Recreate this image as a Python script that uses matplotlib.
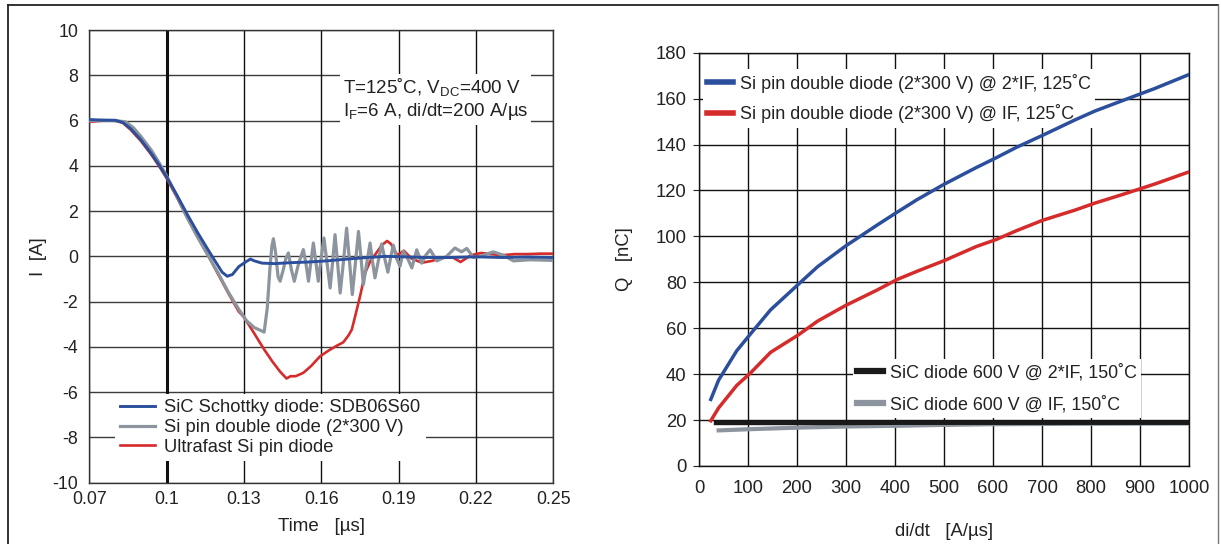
import matplotlib
matplotlib.use("Agg")
import matplotlib.pyplot as plt
from matplotlib import font_manager
from matplotlib.lines import Line2D

# ============================================================
# Data: reverse recovery current (left panel)
# ============================================================

T_SIC = [0.070, 0.075, 0.080, 0.083, 0.086, 0.090, 0.094, 0.097, 0.100, 0.104,
         0.108, 0.112, 0.116, 0.119, 0.1215, 0.1235, 0.1255, 0.128, 0.131, 0.1325,
         0.134, 0.137, 0.142, 0.148, 0.155, 0.162, 0.170, 0.178, 0.185, 0.192,
         0.200, 0.210, 0.220, 0.230, 0.240, 0.250]
I_SIC = [6.05, 6.02, 6.02, 5.92, 5.65, 5.15, 4.55, 4.05, 3.50, 2.70,
         1.85, 1.05, 0.30, -0.25, -0.70, -0.88, -0.80, -0.45, -0.22, -0.12,
         -0.20, -0.30, -0.32, -0.28, -0.25, -0.20, -0.12, -0.05, 0.00, -0.02,
         -0.05, -0.05, -0.02, -0.05, -0.03, -0.05]

T_PIN = [0.070, 0.075, 0.080, 0.084, 0.087, 0.090, 0.094, 0.097, 0.100, 0.104,
         0.108, 0.112, 0.116, 0.120, 0.124, 0.128, 0.131, 0.134, 0.1365, 0.1378,
         0.1390, 0.1400, 0.1408, 0.1414, 0.1422, 0.1432, 0.1440, 0.1452, 0.1462, 0.1472,
         0.1484, 0.1495, 0.1512, 0.1530, 0.1540, 0.1550, 0.1560, 0.1569, 0.1578, 0.1588,
         0.1599, 0.1610, 0.1622, 0.1634, 0.1644, 0.1653, 0.1663, 0.1673, 0.1686, 0.1698,
         0.1709, 0.1720, 0.1732, 0.1744, 0.1754, 0.1763, 0.1776, 0.1789, 0.1798, 0.1808,
         0.1821, 0.1834, 0.1846, 0.1858, 0.1868, 0.1879, 0.1892, 0.1905, 0.1918, 0.1935,
         0.1951, 0.1970, 0.1989, 0.2005, 0.2022, 0.2048, 0.2086, 0.2118, 0.2144, 0.2164,
         0.2190, 0.2216, 0.2267, 0.2306, 0.2345, 0.2410, 0.2500]
I_PIN = [6.00, 6.02, 6.00, 5.95, 5.70, 5.30, 4.70, 4.15, 3.55, 2.65,
         1.70, 0.85, 0.05, -0.75, -1.60, -2.35, -2.85, -3.15, -3.28, -3.35,
         -2.30, -0.60, 0.45, 0.78, 0.20, -0.90, -1.10, -0.60, -0.10, 0.15,
         -0.60, -1.10, -0.30, 0.30, -0.30, -1.10, -0.20, 0.59, -0.20, -1.10,
         -0.10, 0.81, -0.30, -1.40, -0.20, 0.96, -0.30, -1.62, -0.20, 1.25,
         -0.20, -1.69, -0.30, 1.10, -0.10, -1.25, -0.30, 0.59, -0.20, -0.95,
         -0.20, 0.55, -0.10, -0.70, -0.10, 0.50, -0.10, -0.44, 0.22, -0.10,
         -0.51, 0.29, -0.30, 0.05, 0.29, -0.20, 0.00, 0.37, 0.20, 0.35,
         -0.05, 0.00, 0.20, 0.05, -0.20, -0.15, -0.18]

T_FAST = [0.070, 0.075, 0.080, 0.083, 0.086, 0.090, 0.094, 0.097, 0.100, 0.104,
          0.108, 0.112, 0.116, 0.120, 0.124, 0.128, 0.1297, 0.132, 0.135, 0.138,
          0.141, 0.144, 0.1465, 0.148, 0.150, 0.153, 0.156, 0.1595, 0.163, 0.166,
          0.1685, 0.1705, 0.1718, 0.173, 0.175, 0.177, 0.179, 0.181, 0.1835, 0.1855,
          0.187, 0.1895, 0.192, 0.195, 0.199, 0.203, 0.207, 0.211, 0.214, 0.218,
          0.222, 0.226, 0.230, 0.235, 0.240, 0.245, 0.250]
I_FAST = [5.95, 6.00, 6.00, 5.90, 5.60, 5.10, 4.50, 4.00, 3.45, 2.60,
          1.70, 0.85, 0.05, -0.80, -1.65, -2.45, -2.65, -3.05, -3.60, -4.15,
          -4.65, -5.10, -5.40, -5.30, -5.30, -5.15, -4.85, -4.42, -4.15, -3.95,
          -3.80, -3.50, -3.24, -2.70, -1.77, -0.73, -0.20, 0.10, 0.50, 0.68,
          0.55, 0.05, 0.25, -0.10, -0.28, -0.20, -0.05, -0.05, -0.25, 0.05,
          0.15, 0.10, 0.05, 0.10, 0.10, 0.12, 0.12]

LEFT_LABELS = ["SiC Schottky diode: SDB06S60",
               "Si pin double diode (2*300 V)",
               "Ultrafast Si pin diode"]
LEFT_XTICKS = [0.07, 0.1, 0.13, 0.16, 0.19, 0.22, 0.25]
LEFT_XTICKLABELS = ["0.07", "0.1", "0.13", "0.16", "0.19", "0.22", "0.25"]
LEFT_YTICKS = [-10, -8, -6, -4, -2, 0, 2, 4, 6, 8, 10]

# ============================================================
# Data: recovery charge vs di/dt (right panel)
# ============================================================

DIDT_PIN = [24, 40, 77, 105, 146, 202, 242, 299, 364, 404,
            445, 501, 566, 606, 647, 701, 768, 808, 865, 930, 1000]
Q_PIN_2IF = [29.0, 37.4, 50.2, 57.5, 68.0, 79.0, 86.8, 95.8, 105.0, 110.5,
             116.0, 122.8, 130.0, 134.2, 138.7, 144.0, 150.8, 154.6, 159.2, 164.4, 170.5]
Q_PIN_IF = [19.7, 25.3, 35.1, 40.5, 49.5, 57.0, 63.1, 69.9, 76.7, 81.2,
            84.8, 89.5, 95.6, 98.6, 102.4, 107.0, 111.5, 114.5, 118.3, 122.8, 128.1]

DIDT_SIC = [35, 100, 200, 300, 400, 500, 600, 700, 800, 900, 1000]
Q_SIC_2IF = [18.8, 18.8, 18.8, 18.8, 18.9, 18.9, 18.9, 18.9, 18.9, 18.9, 18.9]
DIDT_SIC_IF = [40, 100, 200, 300, 400, 500, 600, 800, 1000]
Q_SIC_IF = [15.5, 16.0, 16.7, 17.2, 17.5, 17.9, 18.2, 18.4, 18.5]

RIGHT_LABELS = ["Si pin double diode (2*300 V) @ 2*IF, 125˚C",
                "Si pin double diode (2*300 V) @ IF, 125˚C",
                "SiC diode 600 V @ 2*IF, 150˚C",
                "SiC diode 600 V @ IF, 150˚C"]
RIGHT_XTICKS = list(range(0, 1001, 100))
RIGHT_YTICKS = list(range(0, 181, 20))

BLUE = "#2b4f9c"
GRAY = "#8c959e"
RED = "#d52b2b"
BLACK = "#1a1a1a"
TXT = "#222222"

FONT_LEFT = ["Liberation Sans", "DejaVu Sans"]
FS_LEFT = 13.5
FS_TICK_LEFT = 12.8

# the right panel uses a narrow Helvetica; fall back to a smaller regular face
installed = {f.name for f in font_manager.fontManager.ttflist}
if "Liberation Sans Narrow" in installed:
    FONT_RIGHT = ["Liberation Sans Narrow", "DejaVu Sans"]
    FS_RIGHT = 15.5
    FS_LEG_RIGHT = 15.2
else:
    FONT_RIGHT = ["Liberation Sans", "DejaVu Sans"]
    FS_RIGHT = 13.3
    FS_LEG_RIGHT = 12.9

plt.rcParams["mathtext.fontset"] = "custom"
plt.rcParams["mathtext.rm"] = "Liberation Sans"

fig = plt.figure(figsize=(12.21, 5.44), dpi=100)

# ------------------------------------------------------------
# Left panel
# ------------------------------------------------------------
ax1 = fig.add_axes([0.0732, 0.1130, 0.3800, 0.8315])
ax1.set_xlim(0.07, 0.25)
ax1.set_ylim(-10, 10)
ax1.set_xticks(LEFT_XTICKS)
ax1.set_xticklabels(LEFT_XTICKLABELS, family=FONT_LEFT, fontsize=FS_TICK_LEFT, color=TXT)
ax1.set_yticks(LEFT_YTICKS)
ax1.set_yticklabels([str(v) for v in LEFT_YTICKS], family=FONT_LEFT,
                    fontsize=FS_TICK_LEFT, color=TXT)
ax1.tick_params(length=0, pad=8)
ax1.tick_params(axis="x", pad=6)
for y in LEFT_YTICKS:
    ax1.axhline(y, color="#3c3c3c", linewidth=1.0, zorder=1)
for x in LEFT_XTICKS:
    ax1.axvline(x, color="#111111", linewidth=1.0, zorder=1)
ax1.axvline(0.1, color="#111111", linewidth=2.2, zorder=1)
for sp in ax1.spines.values():
    sp.set_color("#333333")
    sp.set_linewidth(1.0)

ax1.plot(T_FAST, I_FAST, color=RED, linewidth=1.9, zorder=3, label=LEFT_LABELS[2])
ax1.plot(T_PIN, I_PIN, color=GRAY, linewidth=2.3, zorder=4, label=LEFT_LABELS[1])
ax1.plot(T_SIC, I_SIC, color=BLUE, linewidth=2.1, zorder=5, label=LEFT_LABELS[0])

h, l = ax1.get_legend_handles_labels()
order = [2, 1, 0]
leg1 = ax1.legend([h[i] for i in order], [l[i] for i in order], loc="upper left",
                  bbox_to_anchor=(0.055, 0.196), frameon=True, fancybox=False,
                  edgecolor="none", facecolor="white", framealpha=1.0,
                  prop={"family": FONT_LEFT, "size": 13.2}, handlelength=1.9,
                  handletextpad=0.5, labelspacing=0.15, borderpad=0.3,
                  borderaxespad=0)
leg1.set_zorder(6)
for t in leg1.get_texts():
    t.set_color(TXT)

ax1.text(0.1683, 6.95,
         "T=125˚C, V$_\\mathregular{DC}$=400 V\nI$_\\mathregular{F}$=6 A, di/dt=200 A/µs",
         family=FONT_LEFT, fontsize=FS_LEFT, color=TXT, va="center", ha="left",
         linespacing=1.15, zorder=6,
         bbox=dict(facecolor="white", edgecolor="none", pad=2))

ax1.set_xlabel("Time   [µs]", family=FONT_LEFT, fontsize=FS_LEFT, color=TXT, labelpad=7)
ax1.set_ylabel("I  [A]", family=FONT_LEFT, fontsize=FS_LEFT, color=TXT, labelpad=4)

# ------------------------------------------------------------
# Right panel
# ------------------------------------------------------------
ax2 = fig.add_axes([0.5725, 0.1434, 0.4013, 0.7597])
ax2.set_xlim(0, 1000)
ax2.set_ylim(0, 180)
ax2.set_xticks(RIGHT_XTICKS)
ax2.set_xticklabels([str(v) for v in RIGHT_XTICKS], family=FONT_RIGHT, fontsize=FS_RIGHT,
                    color=TXT)
ax2.set_yticks(RIGHT_YTICKS)
ax2.set_yticklabels([str(v) for v in RIGHT_YTICKS], family=FONT_RIGHT, fontsize=FS_RIGHT,
                    color=TXT)
ax2.tick_params(axis="x", length=0, pad=10)
ax2.tick_params(axis="y", length=4, pad=5, direction="out", color=TXT)
ax2.grid(True, color="#111111", linewidth=1.0)
ax2.set_axisbelow(True)
for sp in ax2.spines.values():
    sp.set_color("#111111")
    sp.set_linewidth(1.0)

l_b, = ax2.plot(DIDT_PIN, Q_PIN_2IF, color=BLUE, linewidth=2.5, zorder=3)
l_r, = ax2.plot(DIDT_PIN, Q_PIN_IF, color=RED, linewidth=2.5, zorder=3)
l_g, = ax2.plot(DIDT_SIC_IF, Q_SIC_IF, color=GRAY, linewidth=3.0, zorder=3)
l_k, = ax2.plot(DIDT_SIC, Q_SIC_2IF, color=BLACK, linewidth=3.4, zorder=4)

leg_a = ax2.legend([l_b, l_r], RIGHT_LABELS[:2], loc="upper left",
                   bbox_to_anchor=(0.008, 0.960), frameon=True, fancybox=False,
                   edgecolor="none", facecolor="white", framealpha=1.0,
                   prop={"family": FONT_RIGHT, "size": FS_LEG_RIGHT}, handlelength=1.45,
                   handletextpad=0.35, labelspacing=0.65, borderpad=0.25,
                   borderaxespad=0)
for ln in leg_a.get_lines():
    ln.set_linewidth(4)
ax2.add_artist(leg_a)
leg_b = ax2.legend([l_k, l_g], RIGHT_LABELS[2:], loc="upper left",
                   bbox_to_anchor=(0.314, 0.258), frameon=True, fancybox=False,
                   edgecolor="none", facecolor="white", framealpha=1.0,
                   prop={"family": FONT_RIGHT, "size": FS_LEG_RIGHT}, handlelength=1.45,
                   handletextpad=0.35, labelspacing=0.8, borderpad=0.25,
                   borderaxespad=0)
for ln in leg_b.get_lines():
    ln.set_linewidth(4.5)
# legend boxes hide the grid but the curves run over them
for lg in (leg_a, leg_b):
    lg.set_zorder(2.5)
    for t in lg.get_texts():
        t.set_color(TXT)

ax2.set_xlabel("di/dt   [A/µs]", family=FONT_RIGHT, fontsize=FS_RIGHT, color=TXT,
               labelpad=19)
ax2.set_ylabel("Q   [nC]", family=FONT_RIGHT, fontsize=FS_RIGHT, color=TXT,
               labelpad=16)

# ------------------------------------------------------------
# Panel frame lines
# ------------------------------------------------------------
top = 1 - 5 / 544
fig.add_artist(Line2D([8 / 1221, 8 / 1221], [0, top], color="#222222", linewidth=1.3))
fig.add_artist(Line2D([8 / 1221, 1218 / 1221], [top, top], color="#222222", linewidth=1.3))
fig.add_artist(Line2D([1218 / 1221, 1218 / 1221], [0, top], color="#777777", linewidth=1.0))

fig.savefig("out.png", dpi=100)
